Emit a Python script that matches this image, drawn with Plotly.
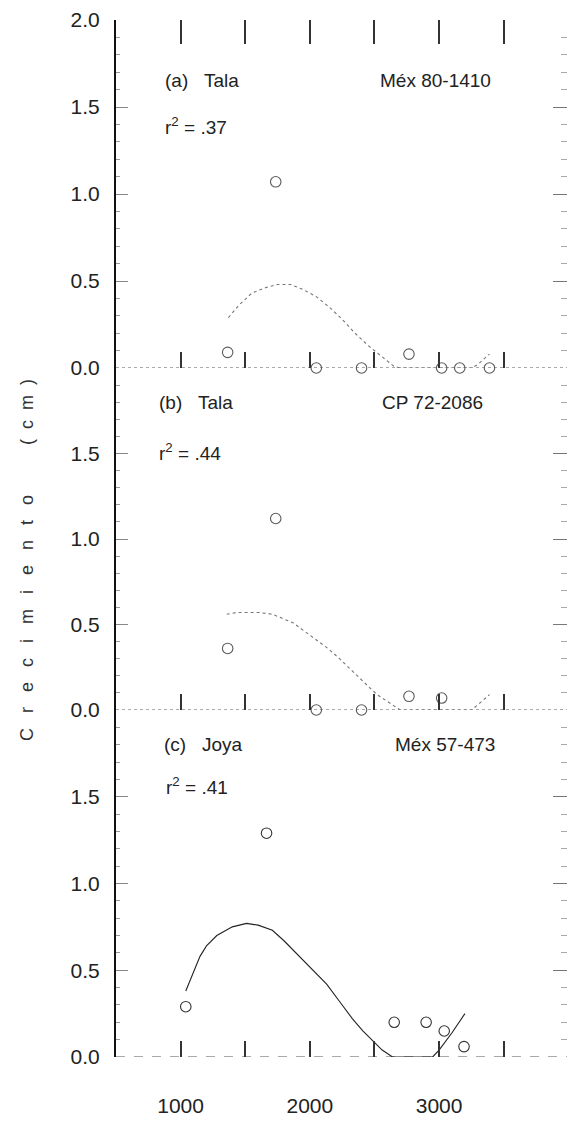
import plotly.graph_objects as go

# ---------------- data ----------------
# Panel (a) Tala, Méx 80-1410
a_obs_x = [1364, 1736, 2767, 2050, 2400, 3020, 3160, 3390]
a_obs_y = [0.09, 1.07, 0.08, 0.0, 0.0, 0.0, 0.0, 0.0]
a_fit_x = [1370, 1450, 1550, 1650, 1750, 1850, 1950, 2050, 2150, 2250, 2350, 2450, 2550, 2650, 2700,
           3250, 3300, 3390]
a_fit_y = [0.29, 0.36, 0.43, 0.46, 0.48, 0.48, 0.45, 0.41, 0.35, 0.28, 0.20, 0.13, 0.07, 0.01, 0.0,
           0.0, 0.02, 0.08]

# Panel (b) Tala, CP 72-2086
b_obs_x = [1364, 1736, 2767, 3020, 2050, 2400, 3180, 3410]
b_obs_y = [0.36, 1.12, 0.08, 0.07, 0.0, 0.0, -0.01, -0.01]
b_fit_x = [1357, 1430, 1510, 1610, 1710, 1800, 1870, 1960, 2050, 2140, 2230, 2310, 2380, 2450, 2520,
           2600, 2670, 2700, 3250, 3300, 3390]
b_fit_y = [0.56, 0.57, 0.57, 0.57, 0.56, 0.53, 0.51, 0.46, 0.41, 0.36, 0.30, 0.24, 0.19, 0.14, 0.09,
           0.05, 0.02, 0.0, 0.0, 0.03, 0.09]

# Panel (c) Joya, Méx 57-473
c_obs_x = [1040, 1665, 1981, 2321, 2653, 2900, 3040, 3193]
c_obs_y = [0.29, 1.29, -0.01, -0.01, 0.20, 0.20, 0.15, 0.06]
c_fit_x = [1040, 1100, 1150, 1200, 1280, 1400, 1510, 1600, 1710, 1800, 1920, 2020, 2130, 2230, 2330,
           2410, 2480, 2560, 2640, 2950, 3000, 3100, 3200]
c_fit_y = [0.38, 0.49, 0.58, 0.64, 0.70, 0.75, 0.77, 0.76, 0.73, 0.67, 0.58, 0.50, 0.42, 0.32, 0.22,
           0.15, 0.10, 0.04, 0.0, 0.0, 0.04, 0.14, 0.25]

panel_titles = ["(a)\u00a0\u00a0\u00a0Tala", "(b)\u00a0\u00a0\u00a0Tala", "(c)\u00a0\u00a0\u00a0Joya"]
panel_cultivars = ["Méx 80-1410", "CP 72-2086", "Méx 57-473"]
panel_r2 = [".37", ".44", ".41"]

x_tick0 = 1000
x_dtick = 500
y_ticks_top = [0.0, 0.5, 1.0, 1.5, 2.0]
y_ticks = [0.0, 0.5, 1.0, 1.5]

y_title = "\u00a0\u00a0\u00a0".join("Crecimiento") + "\u00a0" * 10 + "(\u00a0\u00a0c\u00a0\u00a0m\u00a0\u00a0)"

# ---------------- figure ----------------
FONT = "Liberation Sans, Arial, sans-serif"
XR = [500, 3990]
YR = [0, 2]

fig = go.Figure()

panels = [
    (a_obs_x, a_obs_y, a_fit_x, a_fit_y, "x", "y", "#5a5a5a", "dot", "#777"),
    (b_obs_x, b_obs_y, b_fit_x, b_fit_y, "x2", "y2", "#5a5a5a", "dot", "#777"),
    (c_obs_x, c_obs_y, c_fit_x, c_fit_y, "x3", "y3", "#333", "solid", "#222"),
]
for ox, oy, fx, fy, xa, ya, mcol, dash, lcol in panels:
    fig.add_trace(go.Scatter(x=fx, y=fy, mode="lines", xaxis=xa, yaxis=ya,
                             line=dict(color=lcol, width=1.1, dash=dash),
                             showlegend=False, hoverinfo="skip"))
    fig.add_trace(go.Scatter(x=ox, y=oy, mode="markers", xaxis=xa, yaxis=ya,
                             marker=dict(symbol="circle-open", size=10.5, color=mcol,
                                         line=dict(width=1.1, color=mcol)),
                             cliponaxis=False, showlegend=False, hoverinfo="skip"))

# placeholder traces so overlay axes are drawn
for xa, ya in [("x4", "y"), ("x", "y4"), ("x2", "y5"), ("x3", "y6")]:
    fig.add_trace(go.Scatter(x=[None], y=[None], xaxis=xa, yaxis=ya,
                             showlegend=False, hoverinfo="skip"))

H_TOP, H_BOT = 20, 69
total = 1126 - H_TOP - H_BOT
d_c = [0, 347 / total]
d_b = [347 / total, (347 + 342) / total]
d_a = [(347 + 342) / total, 1]

tickfont = dict(family=FONT, size=21, color="#222")

def xax(anchor, labels):
    return dict(anchor=anchor, domain=[0, 1], range=XR, showgrid=False, zeroline=False,
                showline=False, ticks="inside", ticklen=16, tickwidth=1.5, tickcolor="#333",
                tickmode="linear", tick0=x_tick0, dtick=x_dtick, ticklabelstep=2,
                showticklabels=labels, tickfont=tickfont, ticklabelstandoff=34)

def yax(domain, vals, anchor="x"):
    return dict(anchor=anchor, domain=domain, range=YR, showgrid=False, zeroline=False,
                showline=True, linecolor="#111", linewidth=2,
                ticks="inside", ticklen=12, tickwidth=1, tickcolor="#888",
                tickvals=vals, tickformat=".1f", tickfont=tickfont, ticklabelstandoff=10,
                minor=dict(dtick=0.1, ticks="inside", ticklen=4, tickcolor="#999", tickwidth=1))

def yright(over, anchor):
    return dict(overlaying=over, side="right", anchor=anchor, range=YR, showgrid=False,
                zeroline=False, showline=False, showticklabels=False,
                ticks="inside", ticklen=14, tickwidth=1, tickcolor="#777",
                tickvals=y_ticks_top,
                minor=dict(dtick=0.1, ticks="inside", ticklen=6, tickcolor="#aaa", tickwidth=1))

fig.update_layout(
    width=567, height=1126,
    margin=dict(l=116, r=0, t=H_TOP, b=H_BOT),
    paper_bgcolor="white", plot_bgcolor="white",
    font=dict(family=FONT, color="#222"),
    xaxis=xax("y", False),
    xaxis2=xax("y2", False),
    xaxis3=xax("y3", True),
    xaxis4=dict(overlaying="x", side="top", anchor="y", range=XR, showgrid=False,
                zeroline=False, showline=False, showticklabels=False, ticks="inside",
                ticklen=24, tickwidth=1.5, tickcolor="#333",
                tickmode="linear", tick0=x_tick0, dtick=x_dtick),
    yaxis=yax(d_a, y_ticks_top),
    yaxis2=yax(d_b, y_ticks, "x2"),
    yaxis3=yax(d_c, y_ticks, "x3"),
    yaxis4=yright("y", "x"),
    yaxis5=yright("y2", "x2"),
    yaxis6=yright("y3", "x3"),
)

# dotted / dashed baselines at y = 0
for ya, dash in [("y", "dot"), ("y2", "dot"), ("y3", "dash")]:
    fig.add_shape(type="line", xref="x domain", x0=0, x1=1, yref=ya, y0=0, y1=0,
                  line=dict(color="#555", width=1, dash=dash), layer="below")

# panel annotations
ann_font = dict(family=FONT, size=19, color="#222")
title_pos = [(860, 1.655), (817, 1.80), (856, 1.80)]
cult_pos = [2528, 2543, 2644]
r2_pos = [(864, 1.39), (817, 1.51), (870, 1.56)]
for i, (xa, ya) in enumerate([("x", "y"), ("x2", "y2"), ("x3", "y3")]):
    tx, ty = title_pos[i]
    fig.add_annotation(x=tx, y=ty, xref=xa, yref=ya, text=panel_titles[i], showarrow=False,
                       xanchor="left", yanchor="middle", font=ann_font)
    fig.add_annotation(x=cult_pos[i], y=ty, xref=xa, yref=ya, text=panel_cultivars[i],
                       showarrow=False, xanchor="left", yanchor="middle", font=ann_font)
    rx, ry = r2_pos[i]
    fig.add_annotation(x=rx, y=ry, xref=xa, yref=ya,
                       text="r<sup>2</sup> = " + panel_r2[i], showarrow=False,
                       xanchor="left", yanchor="middle", font=ann_font)

# y-axis title
fig.add_annotation(x=(27 - 116) / 451, y=(1057 - 560) / total, xref="paper", yref="paper",
                   text=y_title, textangle=-90, showarrow=False, xanchor="center",
                   yanchor="middle", font=dict(family=FONT, size=18, color="#333"))

fig.write_html("out.html")
